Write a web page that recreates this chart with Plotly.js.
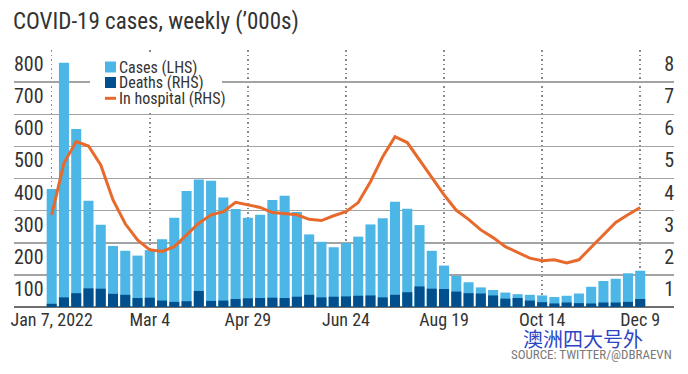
<!DOCTYPE html>
<html>
<head>
<meta charset="utf-8">
<script src="https://cdn.plot.ly/plotly-3.0.1.min.js"></script>
<style>
html,body{margin:0;padding:0;background:#fff;}
#chart{width:688px;height:374px;}
</style>
</head>
<body>
<div id="chart"></div>
<script>
// ---- Data ----
const weeks = [
  '2022-01-07','2022-01-14','2022-01-21','2022-01-28',
  '2022-02-04','2022-02-11','2022-02-18','2022-02-25',
  '2022-03-04','2022-03-11','2022-03-18','2022-03-25',
  '2022-04-01','2022-04-08','2022-04-15','2022-04-22','2022-04-29',
  '2022-05-06','2022-05-13','2022-05-20','2022-05-27',
  '2022-06-03','2022-06-10','2022-06-17','2022-06-24',
  '2022-07-01','2022-07-08','2022-07-15','2022-07-22','2022-07-29',
  '2022-08-05','2022-08-12','2022-08-19','2022-08-26',
  '2022-09-02','2022-09-09','2022-09-16','2022-09-23','2022-09-30',
  '2022-10-07','2022-10-14','2022-10-21','2022-10-28',
  '2022-11-04','2022-11-11','2022-11-18','2022-11-25',
  '2022-12-02','2022-12-09'
];
// Weekly cases, '000s (LHS)
const cases = [367,760,554,331,256,190,175,160,177,211,278,361,397,393,341,305,278,287,333,346,
  296,226,203,186,199,219,257,276,328,306,255,175,129,97,77,61,53,45,40,38,
  36,31,35,42,63,81,88,105,113];
// Weekly deaths, '000s (RHS)
const deaths = [0.10,0.30,0.43,0.58,0.57,0.41,0.38,0.28,0.29,0.20,0.16,0.18,0.50,0.19,0.20,0.25,0.27,0.28,0.29,0.28,
  0.32,0.38,0.30,0.32,0.33,0.35,0.36,0.30,0.38,0.46,0.64,0.57,0.56,0.48,0.43,0.42,0.36,0.26,0.28,0.20,
  0.15,0.11,0.14,0.12,0.11,0.14,0.14,0.16,0.25];
// In hospital, '000s (RHS)
const hospital = [2.87,4.48,5.15,5.01,4.42,3.33,2.59,2.09,1.78,1.73,1.88,2.25,2.61,2.87,2.97,3.26,3.18,3.10,2.94,2.91,
  2.87,2.73,2.69,2.84,2.97,3.25,3.90,4.68,5.30,5.12,4.58,4.01,3.49,3.01,2.73,2.40,2.16,1.88,1.71,1.52,
  1.44,1.47,1.37,1.47,1.86,2.25,2.63,2.87,3.10];

const xTickVals = ['2022-01-07','2022-03-04','2022-04-29','2022-06-24','2022-08-19','2022-10-14','2022-12-09'];
const xTickText = ['Jan 7, 2022','Mar 4','Apr 29','Jun 24','Aug 19','Oct 14','Dec 9'];
const yLeftTicks = [100,200,300,400,500,600,700,800];
const yRightTicks = [1,2,3,4,5,6,7,8];
const legendLabels = ['Cases (LHS)','Deaths (RHS)','In hospital (RHS)'];

// ---- Style ----
const FONT = 'Liberation Sans Narrow, Arial Narrow, Roboto Condensed, sans-serif';
const C_CASES = '#4cb6e6';
const C_DEATHS = '#01508d';
const C_HOSP = '#e8692c';
const TXT = '#333333';

const W = 688, H = 374;
const M = {l:14, r:14, t:50, b:67};
const PW = W - M.l - M.r, PH = H - M.t - M.b;
const px2x = p => (p - M.l) / PW;
const px2y = p => (M.t + PH - p) / PH;

const traces = [
  {type:'bar', x:weeks, y:cases, name:legendLabels[0], xaxis:'x', yaxis:'y',
   marker:{color:C_CASES, line:{width:0}}},
  {type:'bar', x:weeks, y:deaths, name:legendLabels[1], xaxis:'x', yaxis:'y2',
   marker:{color:C_DEATHS, line:{width:0}}},
  {type:'scatter', mode:'lines', x:weeks, y:hospital, name:legendLabels[2], xaxis:'x', yaxis:'y2',
   line:{color:C_HOSP, width:3}}
];

// Manual legend (white box, swatches, labels)
const shapes = [
  {type:'rect', xref:'paper', yref:'paper', x0:px2x(90), x1:px2x(222), y0:px2y(111), y1:px2y(52),
   fillcolor:'#ffffff', line:{width:0}, layer:'above'},
  {type:'rect', xref:'paper', yref:'paper', x0:px2x(105), x1:px2x(116), y0:px2y(72.5), y1:px2y(61.5),
   fillcolor:C_CASES, line:{width:0}, layer:'above'},
  {type:'rect', xref:'paper', yref:'paper', x0:px2x(105), x1:px2x(116), y0:px2y(88), y1:px2y(77),
   fillcolor:C_DEATHS, line:{width:0}, layer:'above'},
  {type:'line', xref:'paper', yref:'paper', x0:px2x(105), x1:px2x(116), y0:px2y(98.3), y1:px2y(98.3),
   line:{color:C_HOSP, width:3}, layer:'above'}
];
const legendY = [67, 82.5, 98.3];
const annotations = legendLabels.map((t,i) => ({
  text:t, xref:'paper', yref:'paper', x:px2x(117), y:px2y(legendY[i]), xanchor:'left', yanchor:'middle',
  showarrow:false, font:{family:FONT, size:16, color:TXT}
}));
annotations.push({
  text:'澳洲四大号外', xref:'paper', yref:'paper', x:px2x(583), y:px2y(338), xanchor:'center', yanchor:'middle',
  showarrow:false, font:{family:'Noto Sans CJK SC, sans-serif', size:20, color:'#2b45c6'}
});
annotations.push({
  text:'SOURCE: TWITTER/@DBRAEVN', xref:'paper', yref:'paper', x:px2x(674), y:px2y(354), xanchor:'right', yanchor:'middle',
  showarrow:false, font:{family:FONT, size:13, color:'#7a7a7a'}
});

const layout = {
  width:W, height:H,
  margin:M,
  paper_bgcolor:'#ffffff', plot_bgcolor:'#ffffff',
  showlegend:false,
  barmode:'overlay',
  bargap:0.18,
  hovermode:false,
  title:{text:'COVID-19 cases, weekly (\u2019000s)', x:13/W, xref:'container', xanchor:'left',
         y:1-21/H, yref:'container', yanchor:'middle',
         font:{family:FONT, size:23, color:TXT}},
  xaxis:{type:'date', range:['2021-12-16 11:30','2022-12-28 07:00'],
         tickmode:'array', tickvals:xTickVals, ticktext:xTickText,
         showgrid:true, gridcolor:'#8a8a8a', gridwidth:1.5, griddash:'1.5px,3px',
         zeroline:false, showline:false, ticks:'',
         tickfont:{family:FONT, size:18, color:TXT}},
  yaxis:{range:[0,800], tickmode:'array', tickvals:yLeftTicks,
         showgrid:true, gridcolor:'#a3a3a3', gridwidth:1.5,
         zeroline:true, zerolinecolor:'#6e6e6e', zerolinewidth:2,
         showline:false, ticks:'', ticklabelposition:'inside bottom', ticklabelstandoff:-3,
         tickfont:{family:FONT, size:20, color:TXT}},
  yaxis2:{range:[0,8], overlaying:'y', side:'right', tickmode:'array', tickvals:yRightTicks,
          showgrid:false, zeroline:false, showline:false, ticks:'', ticklabelposition:'inside bottom',
          ticklabelstandoff:-3,
          tickfont:{family:FONT, size:20, color:TXT}},
  shapes:shapes,
  annotations:annotations
};

Plotly.newPlot('chart', traces, layout, {staticPlot:true, displayModeBar:false});
</script>
</body>
</html>
